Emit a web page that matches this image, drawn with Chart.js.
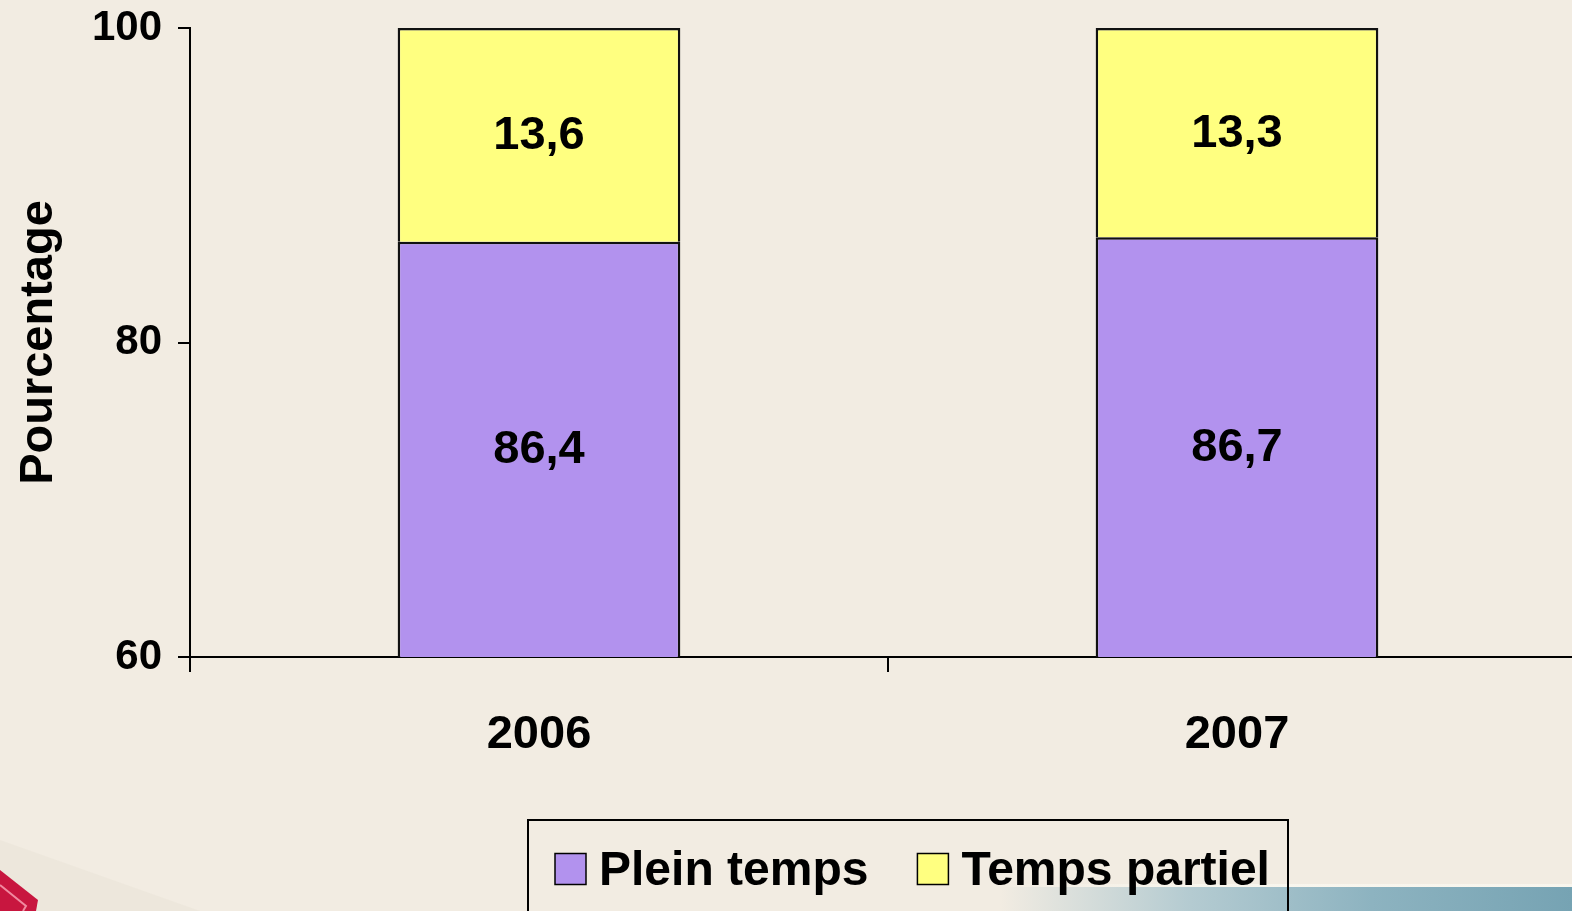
<!DOCTYPE html>
<html lang="fr">
<head>
    <meta charset="UTF-8">
    <title>Plein temps / Temps partiel</title>
    <script src="https://cdn.jsdelivr.net/npm/chart.js"></script>
    <style>
        html, body {
            margin: 0;
            padding: 0;
            width: 1572px;
            height: 911px;
            overflow: hidden;
            background-color: #f2ece2;
        }
        .page {
            position: relative;
            width: 1572px;
            height: 911px;
            overflow: hidden;
        }
        /* bandeau bleu en bas a droite */
        .bandeau {
            position: absolute;
            left: 1000px;
            right: 0;
            top: 887px;
            bottom: 0;
            background: linear-gradient(to right, rgba(150, 185, 198, 0) 0%, rgba(165, 195, 205, 0.8) 33%, #8db3c0 65%, #76a3b3 100%);
        }
        .bandeau::before {
            content: '';
            position: absolute;
            left: 0; right: 0; top: -3px; height: 3px;
            background: linear-gradient(to right, rgba(255, 255, 255, 0) 0%, rgba(250, 248, 240, 0.8) 35%);
        }
        .coin {
            position: absolute;
            left: 0;
            top: 830px;
        }
        canvas {
            position: absolute;
            left: 0;
            top: 0;
        }
    </style>
</head>
<body>
    <div class="page">
        <div class="bandeau"></div>
        <svg class="coin" width="200" height="81" viewBox="0 0 200 81">
            <polygon points="0,10 200,81 0,81" fill="rgba(215,212,195,0.18)"/>
            <polygon points="0,40 38,70 36,81 0,81" fill="#c8163f"/>
            <polyline points="0,55 26,76 23,81" fill="none" stroke="#f08aa0" stroke-width="2"/>
        </svg>
        <canvas id="graphique" width="1600" height="911"></canvas>
    </div>

    <script>
        // Données
        const annees = ['2006', '2007'];
        const pleinTemps = [86.4, 86.7];
        const tempsPartiel = [13.6, 13.3];
        const graduationsY = [60, 80, 100];

        const police = '"Liberation Sans", Arial, sans-serif';
        Chart.defaults.font.family = police;
        Chart.defaults.font.weight = 'bold';
        Chart.defaults.color = '#000';

        // Valeurs écrites au milieu de chaque segment visible
        const etiquettes = {
            id: 'etiquettes',
            afterDatasetsDraw(chart) {
                const { ctx, chartArea } = chart;
                ctx.save();
                ctx.font = 'bold 47px ' + police;
                ctx.fillStyle = '#000';
                ctx.textAlign = 'center';
                ctx.textBaseline = 'middle';
                chart.data.datasets.forEach((ds, i) => {
                    chart.getDatasetMeta(i).data.forEach((barre, j) => {
                        const { x, y, base } = barre.getProps(['x', 'y', 'base'], true);
                        const bas = Math.min(base, chartArea.bottom);
                        const haut = Math.max(y, chartArea.top);
                        const texte = ds.data[j].toFixed(1).replace('.', ',');
                        ctx.fillText(texte, x, (bas + haut) / 2 + 1);
                    });
                });
                ctx.restore();
            }
        };

        // Légende encadrée sous le graphique
        const legende = {
            id: 'legende',
            afterDraw(chart) {
                const { ctx } = chart;
                const boite = { x: 528, y: 820, w: 760, h: 140 };
                const carre = 31, ecart = 13, entre = 49, cy = 869;
                ctx.save();
                ctx.strokeStyle = '#000';
                ctx.lineWidth = 2;
                ctx.strokeRect(boite.x, boite.y, boite.w, boite.h);
                ctx.font = 'bold 48px ' + police;
                let x = boite.x + 27;
                chart.data.datasets.forEach(ds => {
                    ctx.fillStyle = ds.backgroundColor;
                    ctx.fillRect(x, cy - carre / 2, carre, carre);
                    ctx.lineWidth = 1.5;
                    ctx.strokeRect(x, cy - carre / 2, carre, carre);
                    ctx.fillStyle = '#000';
                    ctx.textAlign = 'left';
                    ctx.textBaseline = 'middle';
                    ctx.fillText(ds.label, x + carre + ecart, cy + 3);
                    x += carre + ecart + ctx.measureText(ds.label).width + entre;
                });
                ctx.restore();
            }
        };

        const ctx = document.getElementById('graphique').getContext('2d');

        new Chart(ctx, {
            type: 'bar',
            data: {
                labels: annees,
                datasets: [{
                    label: 'Plein temps',
                    data: pleinTemps,
                    backgroundColor: '#b292ee',
                    borderColor: '#111',
                    borderWidth: 2.5,
                    clip: 0
                }, {
                    label: 'Temps partiel',
                    data: tempsPartiel,
                    backgroundColor: '#ffff80',
                    borderColor: '#111',
                    borderWidth: 2.5,
                    clip: 0
                }]
            },
            options: {
                responsive: false,
                animation: false,
                barPercentage: 0.405,
                categoryPercentage: 1,
                layout: {
                    padding: { top: 28, right: 14, left: 0, bottom: 0 }
                },
                plugins: {
                    legend: { display: false },
                    tooltip: { enabled: false }
                },
                scales: {
                    x: {
                        stacked: true,
                        afterFit: s => { s.height = 254; },
                        border: { display: true, color: '#000', width: 2 },
                        grid: {
                            offset: true,
                            drawOnChartArea: false,
                            tickLength: 15,
                            color: '#000',
                            lineWidth: 2
                        },
                        ticks: {
                            padding: 35,
                            font: { size: 47, weight: 'bold' },
                            color: '#000'
                        }
                    },
                    y: {
                        stacked: true,
                        min: graduationsY[0],
                        max: graduationsY[graduationsY.length - 1],
                        afterFit: s => {
                            s.width = 190;
                            s.paddingTop = 0;
                            s.paddingBottom = 0;
                        },
                        afterBuildTicks: s => { s.ticks = graduationsY.map(v => ({ value: v })); },
                        border: { display: true, color: '#000', width: 2 },
                        grid: {
                            drawOnChartArea: false,
                            tickLength: 12,
                            color: '#000',
                            lineWidth: 2
                        },
                        ticks: {
                            padding: 16,
                            font: { size: 42, weight: 'bold' },
                            color: '#000'
                        },
                        title: {
                            display: true,
                            text: 'Pourcentage',
                            font: { size: 47, weight: 'bold' },
                            color: '#000',
                            padding: { top: 11, bottom: 0 }
                        }
                    }
                }
            },
            plugins: [etiquettes, legende]
        });
    </script>
</body>
</html>
